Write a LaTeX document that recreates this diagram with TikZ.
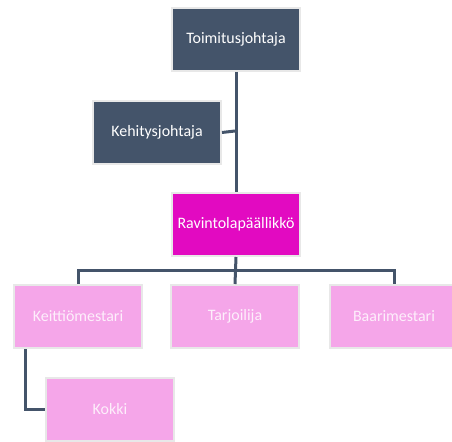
\documentclass[tikz,border=0pt]{standalone}
\usepackage{fontspec}
\setmainfont{Carlito}
\definecolor{slate}{HTML}{44546A}
\definecolor{magenta}{HTML}{E20AC1}
\definecolor{pinkbox}{HTML}{F5A6E9}
\definecolor{rim}{HTML}{E8E8E8}
\definecolor{pinktext}{HTML}{FDEFFB}
\tikzset{
  x=1bp, y=-1bp,
  box/.style={draw=rim, line width=2bp, minimum width=128bp, minimum height=63bp,
    inner sep=0pt, font=\fontsize{16}{18}\selectfont, anchor=north west},
  darkbox/.style={box, fill=slate, text=white},
  headbox/.style={box, fill=magenta, text=white},
  staffbox/.style={box, fill=pinkbox, text=pinktext},
  link/.style={draw=slate, line width=3bp},
}
\begin{document}
\begin{tikzpicture}
\useasboundingbox (0,0) rectangle (452,442);
\clip (0,0) rectangle (452,442);
% boxes
\node[darkbox]  (ceo)  at (171,7)   {Toimitusjohtaja};
\node[darkbox]  (dev)  at (92,100)  {Kehitysjohtaja};
\node[headbox]  (rest) at (171,192) {Ravintolapäällikkö};
\node[staffbox] (chef) at (13,284)  {Keittiömestari};
\node[staffbox] (wait) at (170,284) {Tarjoilija};
\node[staffbox] (bar)  at (329,284) {Baarimestari};
\node[staffbox] (cook) at (45,377)  {Kokki};
% connectors
\coordinate (spine) at (235,131);
\draw[link] (ceo.south) -- (rest.north);
\draw[link] (dev.east) -- (spine);
\coordinate (bus) at (235,270);
\draw[link] (rest.south) -- (wait.north);
\draw[link] (chef.north) |- (bus) -| (bar.north);
\coordinate (drop) at (25,0);
\draw[link] (chef.south -| drop) |- (cook.west);
\end{tikzpicture}
\end{document}
